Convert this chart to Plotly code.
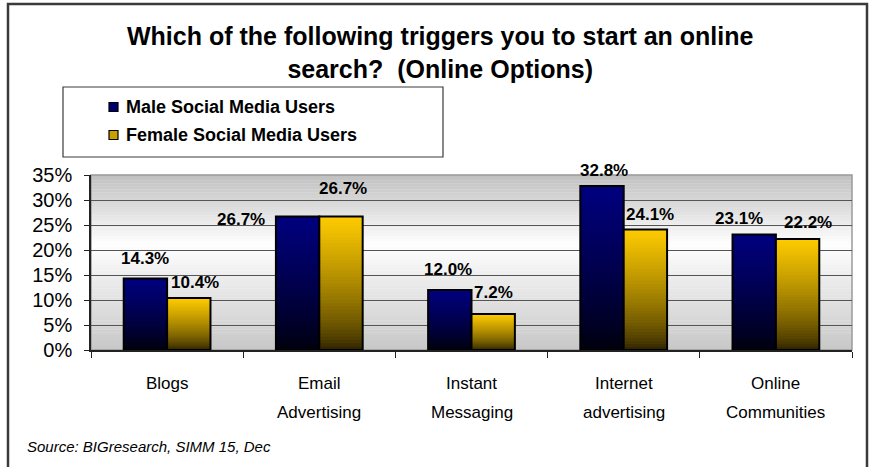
import plotly.graph_objects as go

# Survey data
categories = ["Blogs", "Email<br>Advertising", "Instant<br>Messaging",
              "Internet<br>advertising", "Online<br>Communities"]
male_values = [14.3, 26.7, 12.0, 32.8, 23.1]
female_values = [10.4, 26.7, 7.2, 24.1, 22.2]
series_names = ["Male Social Media Users", "Female Social Media Users"]
y_ticks = [0, 5, 10, 15, 20, 25, 30, 35]
y_tick_labels = ["0%", "5%", "10%", "15%", "20%", "25%", "30%", "35%"]

# Label nudges in pixels (dx, dy) for each series / category
male_label_nudge = [(0, 20), (-57, -3), (-2, 21), (2, 16), (-15, 16)]
female_label_nudge = [(6, 16), (2, 28), (0, 22), (5, 15), (10, 17)]

W, H = 869, 467
ML, MR, MT, MB = 91, 17, 175, 117
PW, PH = W - ML - MR, H - MT - MB


def px_x(px):
    return (px - ML) / PW


def px_y(py):
    return (H - MB - py) / PH


def mix(c_top, c_bot, t, gamma=1.0):
    t = t ** gamma
    return "rgb(%d,%d,%d)" % tuple(round(b + (a - b) * t) for a, b in zip(c_top, c_bot))


fig = go.Figure()

# Gradient-filled bars: each slice runs from its base up to the bar top,
# later slices paint over the earlier ones.
N = 40
grad = {
    0: ((0, 0, 128), (0, 0, 10), 0.8),
    1: ((255, 204, 0), (40, 30, 0), 0.7),
}
for s, vals in enumerate([male_values, female_values]):
    top, bot, gam = grad[s]
    for k in range(N):
        frac = k / N
        fig.add_trace(go.Bar(
            x=categories,
            y=[v * (1 - frac) for v in vals],
            base=[v * frac for v in vals],
            offsetgroup=str(s),
            marker=dict(color=mix(top, bot, (k + 0.5) / N, gam), line=dict(width=0)),
            showlegend=False,
            hoverinfo="skip",
        ))
    # outline
    fig.add_trace(go.Bar(
        x=categories,
        y=vals,
        offsetgroup=str(s),
        marker=dict(color="rgba(0,0,0,0)", line=dict(color="black", width=2)),
        showlegend=False,
        name=series_names[s],
        hovertemplate="%{x}: %{y:.1f}%<extra></extra>",
    ))

# Value labels
bar_half = PW / len(categories) * (1 - 0.43) / 4
annotations = []
for s, (vals, nudges) in enumerate([(male_values, male_label_nudge),
                                     (female_values, female_label_nudge)]):
    side = -1 if s == 0 else 1
    for c, v, (dx, dy) in zip(categories, vals, nudges):
        annotations.append(dict(
            x=c, y=v, xref="x", yref="y", text="%.1f%%" % v,
            showarrow=False, xanchor="center", yanchor="middle",
            xshift=side * bar_half + dx, yshift=dy,
            font=dict(family="Arial", size=17, color="black", weight="bold"),
        ))

# Category labels, one text line at a time for roomier line spacing
for c in categories:
    for line_no, part in enumerate(c.split("<br>")):
        annotations.append(dict(
            x=c, y=px_y(383 + 29 * line_no), xref="x", yref="paper", text=part,
            showarrow=False, xanchor="center", yanchor="middle",
            font=dict(family="Arial", size=17, color="black"),
        ))

# Title
annotations.append(dict(
    x=px_x(440), y=px_y(52), xref="paper", yref="paper",
    text="Which of the following triggers you to start an online<br>search?  (Online Options)",
    showarrow=False, xanchor="center", yanchor="middle", align="center",
    font=dict(family="Arial", size=25, color="black", weight="bold"),
))

annotations.append(dict(
    x=px_x(25), y=px_y(446), xref="paper", yref="paper",
    text="<i>Source: BIGresearch, SIMM 15, Dec</i>", showarrow=False,
    xanchor="left", yanchor="middle",
    font=dict(family="Arial", size=15, color="black"),
))

# Shapes: plot-area gradient, outer frame, legend frame, plot border
shapes = []
S = 60
for i in range(S):
    f0, f1 = i / S, (i + 1) / S  # fraction from top
    fm = (f0 + f1) / 2
    if fm < 0.4:
        g = 255 - 63 * (0.4 - fm) / 0.4
    else:
        g = 255 - 55 * (fm - 0.4) / 0.6
    shapes.append(dict(type="rect", xref="paper", yref="paper",
                       x0=0, x1=1, y0=1 - f1, y1=1 - f0 + 0.002,
                       fillcolor="rgb(%d,%d,%d)" % (g, g, g),
                       line=dict(width=0), layer="below"))
shapes.append(dict(type="rect", xref="paper", yref="paper",
                   x0=0, x1=1, y0=0, y1=1,
                   line=dict(color="#9a9a9a", width=1.5), layer="below"))
shapes.append(dict(type="rect", xref="paper", yref="paper",
                   x0=px_x(8), x1=px_x(867), y0=px_y(475), y1=px_y(4),
                   line=dict(color="#3a3a3a", width=2.5)))
shapes.append(dict(type="rect", xref="paper", yref="paper",
                   x0=px_x(63), x1=px_x(443), y0=px_y(157), y1=px_y(87),
                   line=dict(color="#3a3a3a", width=1.2), fillcolor="rgba(0,0,0,0)"))

# Legend key: swatch plus bold label for each series
legend_colors = ["#00006e", "#c9a000"]
legend_rows = [107, 135]
for name, col, row in zip(series_names, legend_colors, legend_rows):
    shapes.append(dict(type="rect", xref="paper", yref="paper",
                       x0=px_x(109), x1=px_x(118), y0=px_y(row + 4.5), y1=px_y(row - 4.5),
                       fillcolor=col, line=dict(color="black", width=1.2)))
    annotations.append(dict(
        x=px_x(124), y=px_y(row), xref="paper", yref="paper", text=name,
        showarrow=False, xanchor="left", yanchor="middle",
        font=dict(family="Arial", size=18, color="black", weight="bold"),
    ))

fig.update_layout(
    width=W, height=H,
    margin=dict(l=ML, r=MR, t=MT, b=MB, autoexpand=False),
    paper_bgcolor="white",
    plot_bgcolor="rgba(0,0,0,0)",
    barmode="group",
    bargap=0.43,
    bargroupgap=0,
    xaxis=dict(
        showgrid=False, showline=True, linecolor="#222", linewidth=1.5,
        ticks="outside", tickson="boundaries", ticklen=6, tickcolor="#222",
        showticklabels=False, automargin=False,
    ),
    yaxis=dict(
        range=[0, 35], tickvals=y_ticks, ticktext=y_tick_labels,
        showgrid=True, gridcolor="#555", gridwidth=1,
        showline=True, linecolor="#222", linewidth=1.5,
        ticks="outside", ticklen=5, tickcolor="#222",
        ticklabelstandoff=8,
        tickfont=dict(family="Arial", size=20, color="black"),
        zeroline=False, automargin=False,
    ),
    annotations=annotations,
    shapes=shapes,
    showlegend=False,
)

fig.write_html("out.html")
